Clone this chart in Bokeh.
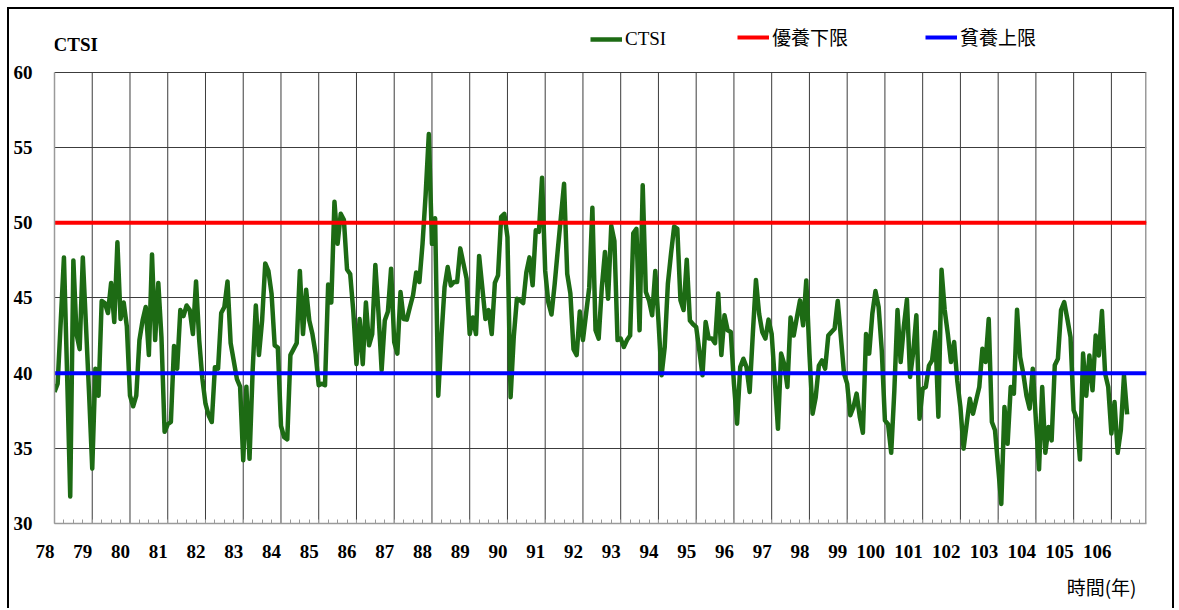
from bokeh.plotting import figure
from bokeh.models import Range1d, FixedTicker, Legend, LegendItem, Label, Title
from bokeh.embed import file_html
from bokeh.resources import INLINE

# ---- data (monthly CTSI, starting January of year 78) ----
start_year = 78
ctsi = [
    # 78
    38.75, 39.3, 43.5, 47.7, 40.0, 31.8, 47.5, 42.6, 41.6, 47.7, 43.2, 38.6,
    # 79
    33.65, 40.3, 38.5, 44.8, 44.66, 44.0, 46.0, 43.4, 48.7, 43.6, 44.7, 43.1,
    # 80
    38.5, 37.8, 38.5, 42.2, 43.5, 44.4, 41.2, 47.9, 42.2, 46.0, 42.4, 36.1,
    # 81
    36.6, 36.75, 41.8, 40.3, 44.2, 43.8, 44.5, 44.2, 42.6, 46.1, 42.2, 39.65,
    # 82
    37.97, 37.2, 36.75, 40.4, 40.3, 44.0, 44.4, 46.1, 42.0, 40.8, 39.6, 39.1,
    # 83
    34.2, 39.1, 34.3, 40.2, 44.5, 41.2, 43.5, 47.3, 46.8, 45.3, 41.85, 41.7,
    # 84
    36.5, 35.75, 35.6, 41.2, 41.6, 42.0, 46.8, 42.6, 45.55, 43.5, 42.6, 41.3,
    # 85
    39.2, 39.3, 39.2, 45.9, 44.7, 51.4, 48.6, 50.6, 50.2, 46.9, 46.6, 44.1,
    # 86
    40.6, 43.6, 40.6, 44.7, 41.85, 42.6, 47.2, 44.0, 40.2, 43.5, 44.1, 46.95,
    # 87
    42.07, 41.3, 45.4, 43.6, 43.56, 44.4, 45.2, 46.7, 46.06, 48.6, 51.9, 55.9,
    # 88
    48.6, 50.3, 38.5, 42.4, 45.7, 47.06, 45.84, 46.06, 46.06, 48.3, 47.3, 46.3,
    # 89
    42.6, 43.7, 42.6, 47.8, 45.7, 43.6, 44.2, 42.6, 46.0, 46.5, 50.4, 50.6,
    # 90
    49.05, 38.4, 42.4, 44.95, 44.84, 44.66, 46.7, 47.7, 45.84, 49.5, 49.4, 53.0,
    # 91
    46.8, 44.7, 43.9, 45.9, 48.2, 50.4, 52.6, 46.6, 45.3, 41.6, 41.2, 44.1,
    # 92
    42.2, 43.96, 45.7, 51.0, 42.85, 42.3, 45.7, 48.06, 44.95, 49.8, 48.8, 42.2,
    # 93
    42.3, 41.74, 42.2, 42.5, 49.3, 49.6, 42.85, 52.5, 45.4, 44.84, 43.85, 46.8,
    # 94
    43.5, 39.86, 41.74, 45.95, 47.95, 49.76, 49.6, 44.84, 44.2, 47.55, 43.5, 43.25,
    # 95
    43.07, 41.5, 39.86, 43.4, 42.3, 42.3, 42.0, 45.3, 41.2, 43.85, 42.85, 42.74,
    # 96
    39.3, 36.64, 40.4, 40.96, 40.4, 38.75, 42.6, 46.2, 43.96, 42.74, 42.3, 43.56,
    # 97
    42.6, 39.5, 36.3, 41.3, 40.6, 39.08, 43.7, 42.5, 43.7, 44.84, 43.18, 46.17,
    # 98
    41.3, 37.3, 38.4, 40.5, 40.85, 40.3, 42.5, 42.74, 42.96, 44.8, 42.4, 39.97,
    # 99
    39.3, 37.2, 37.75, 38.64, 37.1, 36.04, 42.6, 41.3, 43.96, 45.46, 44.4, 41.5,
    # 100
    36.86, 36.6, 34.7, 38.86, 44.2, 40.74, 43.07, 44.9, 39.75, 41.4, 43.85, 36.97,
    # 101
    38.97, 39.08, 40.5, 40.85, 42.74, 37.1, 46.88, 44.2, 42.6, 40.74, 42.07, 39.5,
    # 102
    37.75, 34.98, 36.64, 38.3, 37.3, 38.2, 39.08, 41.63, 40.74, 43.6, 36.75, 36.2,
    # 103
    33.76, 31.3, 37.75, 35.3, 39.08, 38.64, 44.22, 41.07, 39.97, 38.5, 37.64, 40.3,
    # 104
    36.86, 33.6, 39.08, 34.7, 36.42, 35.53, 40.52, 40.96, 44.2, 44.73, 43.6, 42.4,
    # 105
    37.53, 36.97, 34.25, 41.3, 38.5, 41.18, 38.86, 42.5, 41.18, 44.13, 39.97, 39.08,
    # 106
    35.98, 38.08, 34.7, 36.2, 39.85, 37.26,
]
years = [start_year + i / 12 for i in range(len(ctsi))]

eutrophic_lower = 50      # 優養下限
oligotrophic_upper = 40   # 貧養上限
year_labels = list(range(78, 107))
y_ticks = [30, 35, 40, 45, 50, 55, 60]
series_names = ["CTSI", "優養下限", "貧養上限"]
y_title = "CTSI"
x_title = "時間(年)"

x_min, x_max = 78, 106.93
y_min, y_max = 30, 60
y_frame_top = 63.59   # extra headroom inside the frame for the legend row

# ---- figure ----
p = figure(width=1167, height=601, title=None,
           x_range=Range1d(x_min, x_max), y_range=Range1d(y_min, y_frame_top),
           output_backend="svg", toolbar_location=None,
           min_border_left=45, min_border_right=30,
           min_border_top=9, min_border_bottom=87)
p.styles = {"position": "absolute", "left": "7px", "top": "7px",
            "border-top": "2px solid #000", "border-left": "2px solid #000",
            "border-right": "2px solid #000"}
p.background_fill_color = "white"
p.border_fill_color = "white"
p.outline_line_color = None

grid_color = "#3c3c3c"
edge_color = "#9a9a9a"

# x axis: labels right-aligned on each year gridline (padding with figure spaces)
minor = [start_year + q / 4 for q in range(0, 4 * 29)]
p.xaxis.ticker = FixedTicker(ticks=year_labels, minor_ticks=minor)
p.xaxis.major_label_overrides = {y: str(y) + "\u2007" * len(str(y)) for y in year_labels}
p.xgrid.visible = False
p.yaxis.ticker = FixedTicker(ticks=y_ticks)
p.yaxis.bounds = (y_min, y_max)
p.ygrid.ticker = FixedTicker(ticks=y_ticks)
p.ygrid.grid_line_color = grid_color
p.ygrid.grid_line_width = 1

for ax in (p.xaxis, p.yaxis):
    ax.axis_line_color = edge_color
    ax.axis_line_width = 1.5
    ax.major_tick_line_color = None
    ax.major_tick_in = 0
    ax.major_tick_out = 0
    ax.major_label_text_font = "Liberation Serif"
    ax.major_label_text_font_style = "bold"
    ax.major_label_text_font_size = "19px"
    ax.major_label_text_color = "black"

p.xaxis.minor_tick_line_color = edge_color
p.xaxis.minor_tick_in = 4
p.xaxis.minor_tick_out = 0
p.xaxis.major_label_standoff = 17
p.yaxis.minor_tick_line_color = None
p.yaxis.major_label_standoff = 22

# vertical year gridlines limited to the 30-60 band, and right edge of plot area
p.segment(x0=year_labels, y0=[y_min] * len(year_labels),
          x1=year_labels, y1=[y_max] * len(year_labels),
          line_color=grid_color, line_width=1)
p.segment(x0=[x_max], y0=[y_min], x1=[x_max], y1=[y_max],
          line_color=edge_color, line_width=3)

r_ctsi = p.line(years, ctsi, line_color="#1d6b14", line_width=4.5, line_join="round")
r_eu = p.line([x_min, x_max], [eutrophic_lower] * 2, line_color="#ff0000", line_width=4)
r_ol = p.line([x_min, x_max], [oligotrophic_upper] * 2, line_color="#0000ff", line_width=4)

legend_specs = [
    (r_ctsi, series_names[0], "Liberation Serif", "19px", 536),
    (r_eu, series_names[1], "Noto Sans CJK TC", "19px", 683),
    (r_ol, series_names[2], "Noto Sans CJK TC", "19px", 871),
]
for r, name, font, size, vx in legend_specs:
    lg = Legend(items=[LegendItem(label=name, renderers=[r])], location=(vx, 473),
                orientation="horizontal", padding=0, margin=0, spacing=0,
                glyph_width=32, glyph_height=20, label_standoff=3, label_height=20,
                label_text_font=font, label_text_font_size=size,
                label_text_color="black",
                border_line_color=None, background_fill_alpha=0)
    p.add_layout(lg)

p.add_layout(Label(x=-1, y=479.5, x_units="screen", y_units="screen", text=y_title,
                   text_font="Liberation Serif", text_font_style="bold",
                   text_font_size="19px", text_baseline="middle", text_align="left",
                   text_color="black"))
p.add_layout(Title(text=x_title, align="right", offset=10, standoff=13,
                   text_font="Noto Sans CJK TC", text_font_size="19px",
                   text_font_style="normal", text_color="black"), "below")

open("out.html", "w").write(file_html(p, INLINE))
